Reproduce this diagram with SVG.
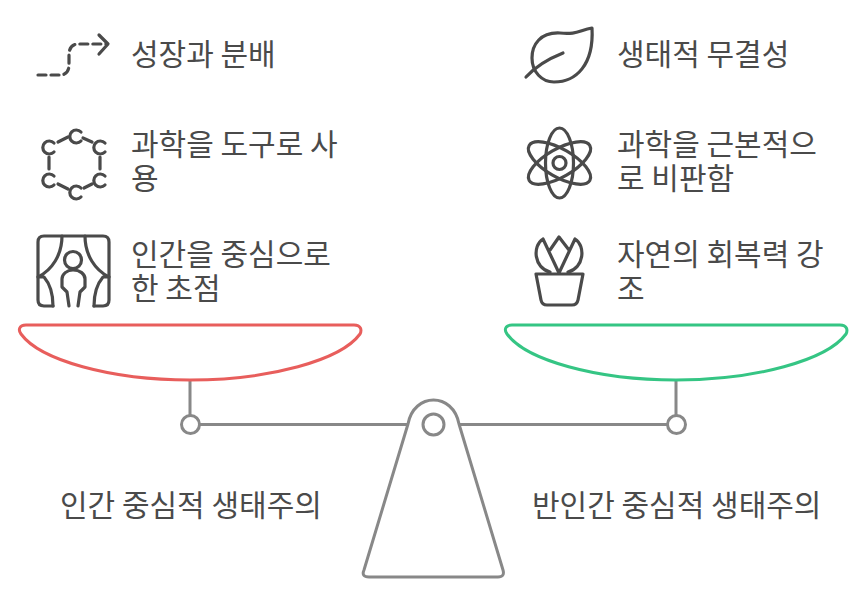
<svg xmlns="http://www.w3.org/2000/svg" width="867" height="597" viewBox="0 0 867 597">
<style>
text{font-family:"Noto Sans CJK KR","Noto Sans",sans-serif;font-size:30px;fill:#4a4a4a}
.i{fill:none;stroke:#4a4a4a;stroke-width:3.2;stroke-linecap:round;stroke-linejoin:round}
.g{fill:none;stroke:#888;stroke-width:3;stroke-linejoin:round}
</style>
<rect width="867" height="597" fill="#fff"/>
<g id="connectors">
<path class="g" d="M190 380V415M199 424.500H407M460 424.500H667M676 380V415"/>
</g>
<g id="fulcrum">
<path class="g" d="M408 424C414 392 453 392 459 424L503 570Q505 577 498 577H369Q361 577 364 570Z"/>
<circle class="g" cx="433.500" cy="424.500" r="10.500"/>
<circle class="g" cx="190.500" cy="424.500" r="9"/>
<circle class="g" cx="676.500" cy="424.500" r="9"/>
</g>
<g id="pan-left"><path fill="none" stroke="#e85e5c" stroke-width="3" stroke-linejoin="round" d="M26 325H354C361 325 362 330 360 334C341 360 270 380 190 380C110 380 40 360 21 334C18 330 19 325 26 325Z"/></g>
<g id="pan-right"><path fill="none" stroke="#35c584" stroke-width="3" stroke-linejoin="round" d="M512 325H840C847 325 848 330 846 334C827 360 756 380 676 380C596 380 526 360 507 334C504 330 505 325 512 325Z"/></g>
<g id="node-growth">
<path class="i" stroke-dasharray="8 5" d="M38 75H60C66 75 69 71 69 65V55C69 48 72 44 79 44H107"/>
<path class="i" d="M99 35L108 44L99 54"/>
<text x="131" y="65">성장과 분배</text>
</g>
<g id="node-science-tool">
<path class="i" d="M81 132A6.500 6.500 0 1 0 81 141M54 143A6.500 6.500 0 1 0 54 152M105 143A6.500 6.500 0 1 0 105 152M54 176A6.500 6.500 0 1 0 54 185M105 176A6.500 6.500 0 1 0 105 185M81 188A6.500 6.500 0 1 0 81 197"/>
<path class="i" d="M58 142L68 137M83 138L92 142M49 157V169M100 157V169M58 184L68 189M84 188L92 184"/>
<text x="131" y="155"><tspan x="131">과학을 도구로 사</tspan><tspan x="131" y="189">용</tspan></text>
</g>
<g id="node-human">
<path class="i" d="M53 306H44Q38 306 38 300V242Q38 236 44 236H103Q109 236 109 242V300Q109 306 103 306H94"/>
<path class="i" d="M62 236C62 255 52 270 38 277M85 236C85 255 95 270 109 277M38 277H44C50 284 53 295 53 306M109 277H103C97 284 94 295 94 306"/>
<circle class="i" cx="73" cy="260" r="8.500"/>
<path class="i" d="M69 306L67 292L62 287V279C62 274 67 270 73 270C80 270 85 274 85 279V287L80 292L78 306"/>
<text x="131" y="265"><tspan x="131">인간을 중심으로</tspan><tspan x="131" y="299">한 초점</tspan></text>
</g>
<g id="node-ecology">
<path class="i" d="M592 28C580 30 576 35 560 33C540 32 532 45 532 58C532 72 542 82 554 82C576 82 594 65 592 28Z"/>
<path class="i" d="M526 77C535 67 548 59 563 53"/>
<text x="617" y="65">생태적 무결성</text>
</g>
<g id="node-science-critique">
<ellipse class="i" cx="559.500" cy="163" rx="14" ry="35"/>
<ellipse class="i" cx="559.500" cy="163" rx="14" ry="35" transform="rotate(60 559.500 163)"/>
<ellipse class="i" cx="559.500" cy="163" rx="14" ry="35" transform="rotate(-60 559.500 163)"/>
<circle class="i" cx="559.500" cy="163" r="6.500"/>
<text x="617" y="155"><tspan x="617">과학을 근본적으</tspan><tspan x="617" y="189">로 비판함</tspan></text>
</g>
<g id="node-resilience">
<path class="i" d="M536 274H583L578 300Q577 305 572 305H547Q542 305 541 300Z"/>
<path class="i" d="M559 273L543 239C532 246 534 268 550 272M559 273L575 239C586 246 584 268 568 272M550 250L559 237L569 250"/>
<text x="617" y="265"><tspan x="617">자연의 회복력 강</tspan><tspan x="617" y="299">조</tspan></text>
</g>
<g id="label-left"><text x="60" y="516">인간 중심적 생태주의</text></g>
<g id="label-right"><text x="532" y="516">반인간 중심적 생태주의</text></g>
</svg>
